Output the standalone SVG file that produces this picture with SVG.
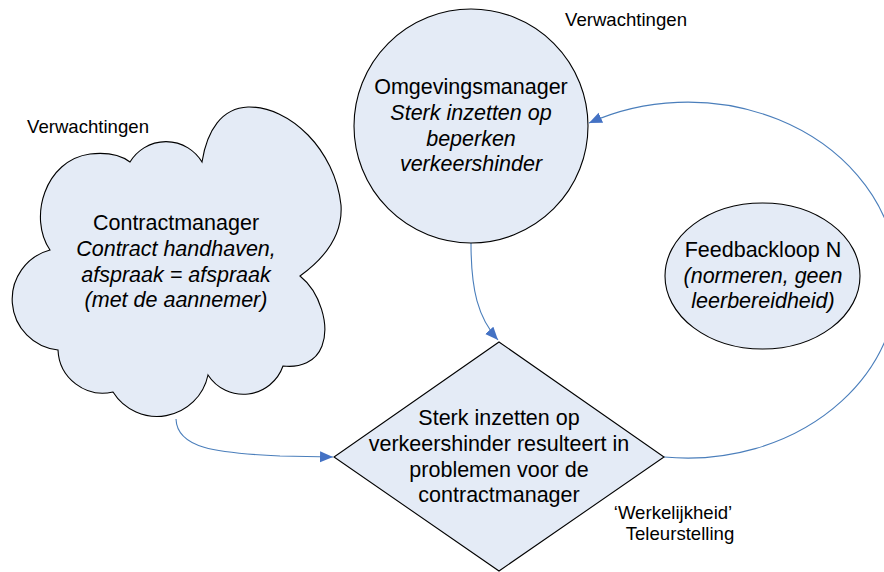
<svg xmlns="http://www.w3.org/2000/svg" width="884" height="572" viewBox="0 0 884 572">
<defs>
<style>
.shape{fill:#E4EBF6;stroke:#000;stroke-width:1.1}
.conn{fill:none;stroke:#4A7EBB;stroke-width:1.1}
.t{font-family:"Liberation Sans",Arial,sans-serif;font-size:21.5px;fill:#000;text-anchor:middle}
.i{font-style:italic}
.lbl{font-family:"Liberation Sans",Arial,sans-serif;font-size:18.6px;fill:#000;text-anchor:middle}
</style>
<marker id="arr" markerUnits="userSpaceOnUse" markerWidth="14" markerHeight="12" refX="13" refY="5.5" orient="auto">
<path d="M0,0 L13,5.5 L0,11 z" fill="#4472C4"/>
</marker>
</defs>
<rect width="884" height="572" fill="#fff"/>
<g id="connectors">
<path class="conn" d="M471,243 C471,290 478,318 498,340" marker-end="url(#arr)"/>
<path class="conn" d="M176,419 C177,448 215,453 280,456 L333,457" marker-end="url(#arr)"/>
<path class="conn" d="M664,457 A210,178 0 1 0 589,123" marker-end="url(#arr)"/>
</g>
<g id="cloud">
<path class="shape" d="M50,250 C28,218 45,160 90,154 C108,152 122,156 130,162 A42,42 0 0 1 202,162 C207,130 222,108 248,107 C290,106 335,150 341,205 C343,235 325,258 300,276 C320,292 330,325 322,346 C316,362 300,368 283,366 A42,42 0 0 1 208,375 A52,52 0 0 1 113,392 A45,45 0 0 1 58,350 A51,51 0 0 1 50,250 Z"/>
<text class="t" x="176" y="230">Contractmanager</text>
<text class="t i" x="176" y="256">Contract handhaven,</text>
<text class="t i" x="176" y="282">afspraak = afspraak</text>
<text class="t i" x="176" y="307">(met de aannemer)</text>
</g>
<g id="omgevingsmanager">
<circle class="shape" cx="471" cy="126" r="117"/>
<text class="t" x="471" y="94">Omgevingsmanager</text>
<text class="t i" x="471" y="120">Sterk inzetten op</text>
<text class="t i" x="471" y="146">beperken</text>
<text class="t i" x="471" y="171">verkeershinder</text>
</g>
<g id="decision">
<polygon class="shape" points="499,342 664,457 499,571 334,457"/>
<text class="t" x="499" y="425">Sterk inzetten op</text>
<text class="t" x="499" y="451">verkeershinder resulteert in</text>
<text class="t" x="499" y="477">problemen voor de</text>
<text class="t" x="499" y="502">contractmanager</text>
</g>
<g id="feedback">
<ellipse class="shape" cx="762.5" cy="276" rx="97.5" ry="73"/>
<text class="t" x="763" y="257">Feedbackloop N</text>
<text class="t i" x="763" y="283">(normeren, geen</text>
<text class="t i" x="763" y="308">leerbereidheid)</text>
</g>
<g id="labels">
<text class="lbl" x="626" y="26">Verwachtingen</text>
<text class="lbl" x="88" y="133">Verwachtingen</text>
<text class="lbl" x="673" y="519">‘Werkelijkheid’</text>
<text class="lbl" x="680" y="540">Teleurstelling</text>
</g>
</svg>
